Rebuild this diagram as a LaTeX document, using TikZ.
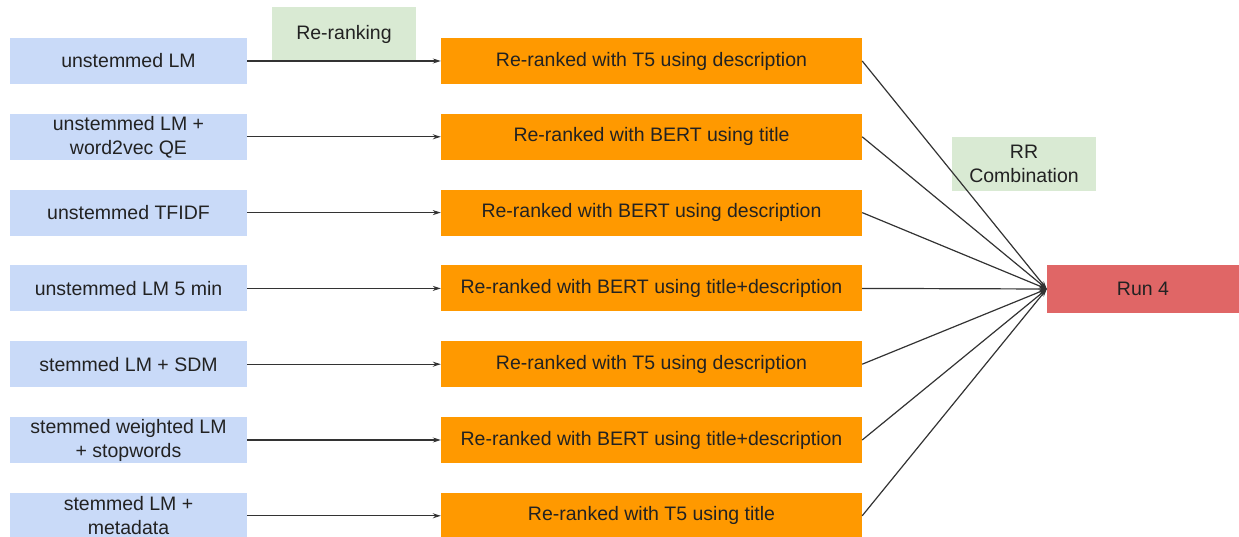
\documentclass[tikz,border=0pt]{standalone}
\usepackage{fontspec}
\setmainfont{Liberation Sans}
\usetikzlibrary{arrows.meta}
\definecolor{inblue}{HTML}{C9DAF8}
\definecolor{rrorange}{HTML}{FF9900}
\definecolor{lblgreen}{HTML}{D9EAD3}
\definecolor{runred}{HTML}{E06666}
\definecolor{txtgrey}{HTML}{222222}
\definecolor{linegrey}{HTML}{333333}
\begin{document}
\begin{tikzpicture}[x=1pt, y=-1pt,
    every node/.style={text=txtgrey, align=center, inner sep=0pt,
        font=\fontsize{19.5}{24}\selectfont},
    runbox/.style={fill=inblue, minimum width=237pt, minimum height=46pt},
    rrbox/.style={fill=rrorange, minimum width=421pt, minimum height=46pt},
    lbl/.style={fill=lblgreen, minimum width=144pt, minimum height=54pt},
    arr/.style={draw=linegrey, line width=1.2pt, -{Stealth[length=8pt, width=5pt]}}]

    \useasboundingbox (0,0) rectangle (1239,537);

    % labels
    \node[lbl] (RR) at (344, 34) {Re-ranking};
    \node[lbl] (CMB) at (1024, 164) {RR\\Combination};

    % first stage runs
    \node[runbox] (L1) at (128.5, 61) {unstemmed LM};
    \node[runbox] (L2) at (128.5, 136.8) {unstemmed LM +\\word2vec QE};
    \node[runbox] (L3) at (128.5, 212.6) {unstemmed TFIDF};
    \node[runbox] (L4) at (128.5, 288.4) {unstemmed LM 5 min};
    \node[runbox] (L5) at (128.5, 364.2) {stemmed LM + SDM};
    \node[runbox] (L6) at (128.5, 440) {stemmed weighted LM\\+ stopwords};
    \node[runbox] (L7) at (128.5, 515.8) {stemmed LM +\\metadata};

    % re-ranked runs
    \node[rrbox] (M1) at (651.5, 61) {Re-ranked with T5 using description};
    \node[rrbox] (M2) at (651.5, 136.8) {Re-ranked with BERT using title};
    \node[rrbox] (M3) at (651.5, 212.6) {Re-ranked with BERT using description};
    \node[rrbox] (M4) at (651.5, 288.4) {Re-ranked with BERT using title+description};
    \node[rrbox] (M5) at (651.5, 364.2) {Re-ranked with T5 using description};
    \node[rrbox] (M6) at (651.5, 440) {Re-ranked with BERT using title+description};
    \node[rrbox] (M7) at (651.5, 515.8) {Re-ranked with T5 using title};

    % combined run
    \node[fill=runred, minimum width=192pt, minimum height=47pt] (Run) at (1143, 289) {Run 4};

    % re-ranking arrows
    \draw[arr] (L1) -- (M1);
    \draw[arr] (L2) -- (M2);
    \draw[arr] (L3) -- (M3);
    \draw[arr] (L4) -- (M4);
    \draw[arr] (L5) -- (M5);
    \draw[arr] (L6) -- (M6);
    \draw[arr] (L7) -- (M7);

    % combination arrows
    \draw[arr] (M1.east) -- (Run.west);
    \draw[arr] (M2.east) -- (Run.west);
    \draw[arr] (M3.east) -- (Run.west);
    \draw[arr] (M4.east) -- (Run.west);
    \draw[arr] (M5.east) -- (Run.west);
    \draw[arr] (M6.east) -- (Run.west);
    \draw[arr] (M7.east) -- (Run.west);

\end{tikzpicture}
\end{document}
